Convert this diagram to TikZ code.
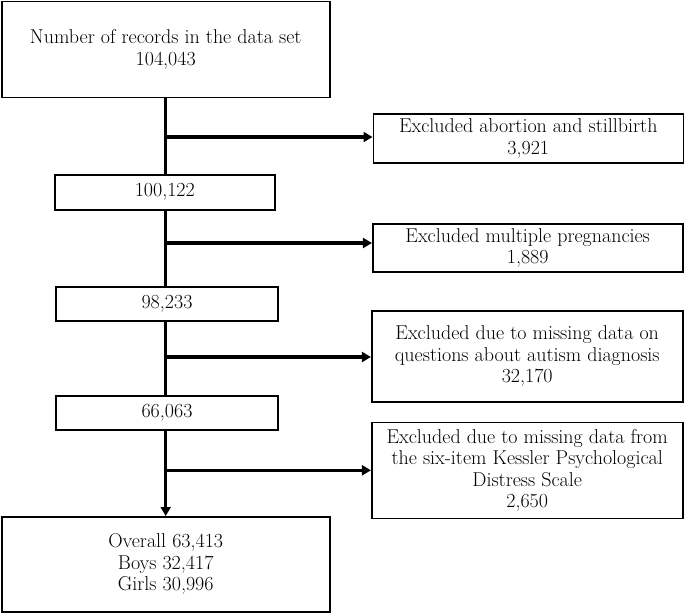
\documentclass[tikz,border=0pt]{standalone}
\usetikzlibrary{arrows.meta}
\begin{document}
\begin{tikzpicture}[x=1pt,y=-1pt,
  box/.style={draw=black,line width=1.6pt,align=center,inner sep=0pt,
    font=\fontsize{20}{21.4}\selectfont},
  conn/.style={line width=3.2pt},
  arr/.style={line width=3.2pt,-{Triangle[length=9pt,width=10pt]}}]
\useasboundingbox (0,0) rectangle (685,614);
\node[box,minimum width=328pt,minimum height=96pt] (top) at (165.7,49.5) {Number of records in the data set\\104,043};
\node[box,minimum width=310pt,minimum height=49pt] (exA) at (528.3,138.3) {Excluded abortion and stillbirth\\3,921};
\node[box,minimum width=220pt,minimum height=35pt] (n1) at (164.8,192.2) {100,122};
\node[box,minimum width=310pt,minimum height=48pt] (exB) at (527.7,248) {Excluded multiple pregnancies\\1,889};
\node[box,minimum width=222pt,minimum height=34pt] (n2) at (167,304.2) {98,233};
\node[box,minimum width=311pt,minimum height=91pt] (exC) at (527.2,356.3) {Excluded due to missing data on\\questions about autism diagnosis\\32,170};
\node[box,minimum width=222pt,minimum height=34pt] (n3) at (167,413.2) {66,063};
\node[box,minimum width=311pt,minimum height=96pt] (exD) at (527.2,470.5) {Excluded due to missing data from\\the six-item Kessler Psychological\\Distress Scale\\2,650};
\node[box,minimum width=328pt,minimum height=95pt] (bot) at (165.7,564.3) {Overall 63,413\\Boys 32,417\\Girls 30,996};
\coordinate (b1) at (165.7,137);
\coordinate (b2) at (165.7,243);
\coordinate (b3) at (165.7,357);
\coordinate (b4) at (165.7,470.3);
\draw[conn] (top.south) -- (top.south |- n1.north);
\draw[conn] (b2 |- n1.south) -- (b2 |- n2.north);
\draw[conn] (b3 |- n2.south) -- (b3 |- n3.north);
\draw[arr] (b4 |- n3.south) -- (b4 |- bot.north);
\draw[arr] (b1) -- (exA.west |- b1);
\draw[arr] (b2) -- (exB.west |- b2);
\draw[arr] (b3) -- (exC.west |- b3);
\draw[arr] (b4) -- (exD.west |- b4);
\end{tikzpicture}
\end{document}
